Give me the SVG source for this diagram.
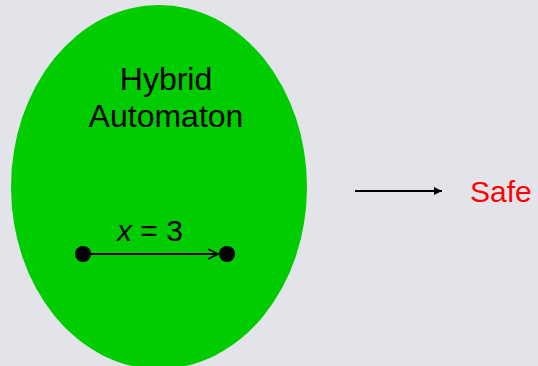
<svg xmlns="http://www.w3.org/2000/svg" width="538" height="366" viewBox="0 0 538 366">
<style>
.t{font-family:"Liberation Sans",Arial,sans-serif;font-size:30px;fill:#000}
.h{font-size:32px}
.c{stroke:#000;stroke-width:2;fill:none}
</style>
<defs>
<marker id="open" viewBox="0 0 12 12" refX="11" refY="6" markerWidth="12" markerHeight="12" markerUnits="userSpaceOnUse" orient="auto">
<path d="M1,1 L11,6 L1,11" fill="none" stroke="#000" stroke-width="1.6"/>
</marker>
<marker id="fill" viewBox="0 0 10 10" refX="10" refY="5" markerWidth="8" markerHeight="8" markerUnits="userSpaceOnUse" orient="auto">
<path d="M0,0 L10,5 L0,10 Z" fill="#000"/>
</marker>
</defs>
<rect width="538" height="366" fill="#E2E4EA"/>
<g id="automaton">
<ellipse cx="159" cy="187" rx="148" ry="182" fill="#00CC00"/>
<text class="t h" x="166" y="90" text-anchor="middle">Hybrid</text>
<text class="t h" x="166" y="127" text-anchor="middle">Automaton</text>
</g>
<g id="s1"><circle cx="83" cy="254" r="8" fill="#000"/></g>
<g id="s2"><circle cx="227" cy="254" r="8" fill="#000"/></g>
<g id="safe"><text class="t" x="470" y="202" style="fill:#FF0000">Safe</text></g>
<g id="connectors">
<line class="c" x1="83" y1="254" x2="218" y2="254" marker-end="url(#open)"/>
<text class="t" x="117" y="241"><tspan font-style="italic">x</tspan> = 3</text>
<line class="c" x1="355" y1="191" x2="442" y2="191" marker-end="url(#fill)"/>
</g>
</svg>
